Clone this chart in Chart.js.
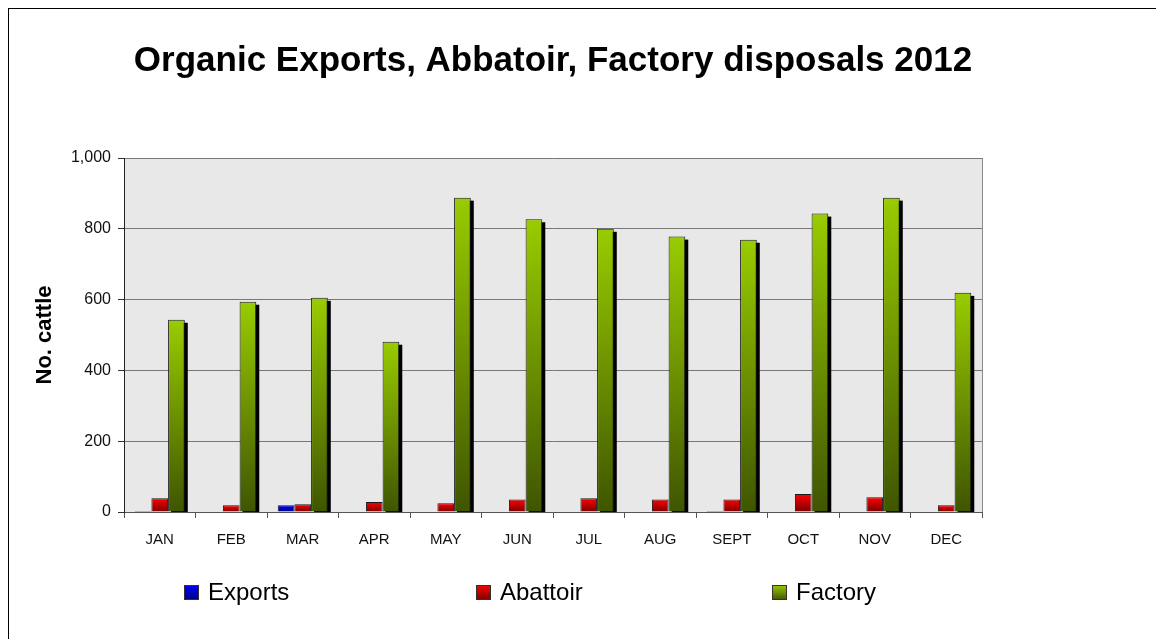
<!DOCTYPE html>
<html lang="en">
<head>
    <meta charset="UTF-8">
    <title>Organic Exports, Abbatoir, Factory disposals 2012</title>
    <script src="https://cdn.jsdelivr.net/npm/chart.js"></script>
    <style>
        html, body { margin: 0; padding: 0; background: #fff; }
        #wrap { position: relative; width: 1156px; height: 639px; }
        #frame { position: absolute; left: 8px; top: 8px; right: -2px; bottom: -2px;
                 border-left: 1px solid #000; border-top: 1px solid #000; pointer-events: none; }
    </style>
</head>
<body>
    <div id="wrap">
        <canvas id="cattleChart" width="1156" height="639"></canvas>
        <div id="frame"></div>
    </div>

    <script>
        const months = ['JAN', 'FEB', 'MAR', 'APR', 'MAY', 'JUN', 'JUL', 'AUG', 'SEPT', 'OCT', 'NOV', 'DEC'];
        const exportsData = [3, 0, 19, 0, 0, 0, 0, 0, 3, 0, 0, 0];
        const abattoirData = [39, 19, 22, 28, 25, 35, 39, 35, 35, 51, 42, 19];
        const factoryData = [543, 594, 605, 481, 888, 827, 800, 778, 769, 843, 888, 619];
        const yTicks = [0, 200, 400, 600, 800, 1000];

        const FONT = '"Liberation Sans", Arial, sans-serif';

        // vertical gradient for each bar, from top of the bar down to the axis
        function barGradient(top, bottom) {
            return function (c) {
                if (c.type !== 'data') return top;
                const chart = c.chart;
                const y = chart.scales.y;
                if (!chart.chartArea || !y) return top;
                const y0 = y.getPixelForValue(c.raw);
                const y1 = y.getPixelForValue(0);
                if (y1 - y0 < 1) return bottom;
                const g = chart.ctx.createLinearGradient(0, y0, 0, y1);
                g.addColorStop(0, top);
                g.addColorStop(1, bottom);
                return g;
            };
        }

        const palette = [
            ['#0000ff', '#000080'],
            ['#ff0000', '#7a0000'],
            ['#99cc00', '#3f5500']
        ];

        // grey plot background + right edge
        const plotBackground = {
            id: 'plotBackground',
            beforeDraw(chart) {
                const { ctx, chartArea: a } = chart;
                ctx.save();
                ctx.fillStyle = '#e8e8e8';
                ctx.fillRect(a.left, a.top, a.right - a.left, a.bottom - a.top);
                ctx.strokeStyle = '#8a8a8a';
                ctx.lineWidth = 1;
                ctx.beginPath();
                ctx.moveTo(a.right + 0.5, a.top);
                ctx.lineTo(a.right + 0.5, a.bottom);
                ctx.stroke();
                ctx.restore();
            }
        };

        // black drop shadow behind the Factory bars (bar element clips its own shadow)
        const barShadow = {
            id: 'barShadow',
            beforeDatasetDraw(chart, args) {
                if (args.index !== 2) return;
                const { ctx, chartArea: a } = chart;
                ctx.save();
                ctx.beginPath();
                ctx.rect(a.left, a.top, a.right - a.left, a.bottom - a.top);
                ctx.clip();
                ctx.fillStyle = '#000';
                args.meta.data.forEach(bar => {
                    const { x, y, base, width } = bar.getProps(['x', 'y', 'base', 'width']);
                    ctx.fillRect(x - width / 2 + 3, y + 3, width, base - y);
                });
                ctx.restore();
            }
        };

        // legend spread wide under the chart, like the original
        const wideLegend = {
            id: 'wideLegend',
            afterDraw(chart, args, opts) {
                const ctx = chart.ctx;
                ctx.save();
                chart.data.datasets.forEach((ds, i) => {
                    const x = opts.xs[i];
                    const y = opts.y;
                    const g = ctx.createLinearGradient(0, y - 7, 0, y + 8);
                    g.addColorStop(0, palette[i][0]);
                    g.addColorStop(1, palette[i][1]);
                    ctx.fillStyle = g;
                    ctx.fillRect(x, y - 7, 15, 15);
                    ctx.strokeStyle = '#333';
                    ctx.lineWidth = 1;
                    ctx.strokeRect(x + 0.5, y - 6.5, 14, 14);
                    ctx.fillStyle = '#000';
                    ctx.font = '24px ' + FONT;
                    ctx.textBaseline = 'middle';
                    ctx.fillText(ds.label, x + 24, y + 1);
                });
                ctx.restore();
            }
        };

        const ctx = document.getElementById('cattleChart').getContext('2d');
        new Chart(ctx, {
            type: 'bar',
            data: {
                labels: months,
                datasets: [
                    { label: 'Exports', data: exportsData },
                    { label: 'Abattoir', data: abattoirData },
                    { label: 'Factory', data: factoryData }
                ].map((d, i) => Object.assign(d, {
                    backgroundColor: barGradient(palette[i][0], palette[i][1]),
                    borderColor: '#1a1a1a',
                    borderWidth: 1,
                    categoryPercentage: 0.7,
                    barPercentage: 1.0
                }))
            },
            options: {
                responsive: false,
                animation: false,
                layout: { padding: { left: 28, right: 174, top: 0, bottom: 77 } },
                plugins: {
                    legend: { display: false },
                    tooltip: { enabled: false },
                    title: {
                        display: true,
                        text: 'Organic Exports, Abbatoir, Factory disposals 2012',
                        fullSize: false,
                        color: '#000',
                        font: { family: FONT, size: 35, weight: 'bold' },
                        padding: { top: 40, bottom: 76 }
                    },
                    wideLegend: { xs: [184, 476, 772], y: 592 }
                },
                scales: {
                    x: {
                        afterFit(scale) { scale.height = 50; },
                        grid: { offset: true, drawOnChartArea: false, drawTicks: true, tickLength: 6, color: '#555' },
                        border: { color: '#555', width: 1 },
                        ticks: { color: '#111', padding: 13, font: { family: FONT, size: 15 } }
                    },
                    y: {
                        min: 0,
                        max: 1000,
                        afterFit(scale) { scale.width = 96; },
                        afterBuildTicks(scale) { scale.ticks = yTicks.map(v => ({ value: v })); },
                        grid: { color: '#777', lineWidth: 1, tickLength: 6, tickColor: '#333' },
                        border: { color: '#222', width: 1 },
                        ticks: {
                            color: '#111',
                            padding: 7,
                            font: { family: FONT, size: 16 },
                            callback: v => v.toLocaleString('en-US')
                        },
                        title: {
                            display: true,
                            text: 'No. cattle',
                            color: '#000',
                            font: { family: FONT, size: 22, weight: 'bold' }
                        }
                    }
                }
            },
            plugins: [plotBackground, barShadow, wideLegend]
        });
    </script>
</body>
</html>
